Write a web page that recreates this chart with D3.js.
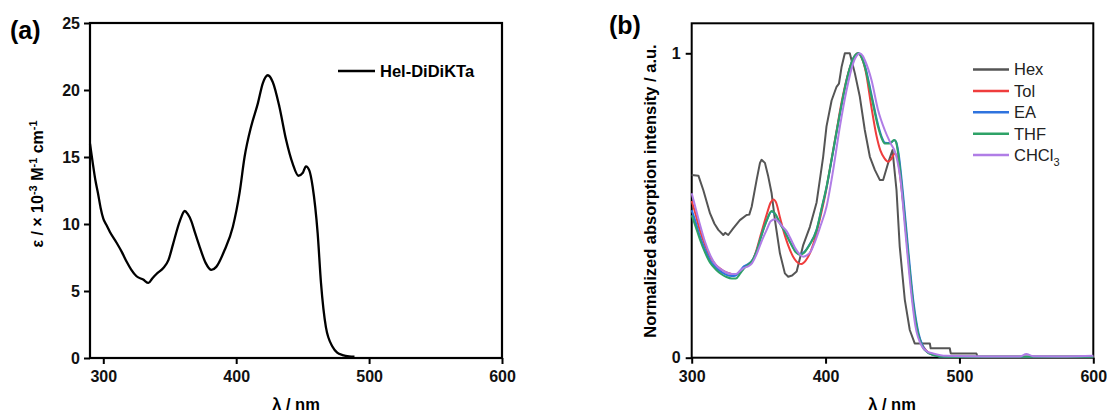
<!DOCTYPE html>
<html>
<head>
<meta charset="utf-8">
<script src="https://cdn.jsdelivr.net/npm/d3@7"></script>
<style>
  body { margin: 0; background: #fff; }
  text { font-family: "Liberation Sans", Arial, sans-serif; }
</style>
</head>
<body>
<div id="chart"></div>
<script>
// panel (a): molar absorptivity, x 10^-3 M^-1 cm^-1
var epsData = [
  [290, 16.0], [292, 14.6], [294, 13.3], [296, 12.3], [298, 11.2], [300, 10.4], [302.5, 9.9], [305, 9.4],
  [310, 8.6], [314, 7.9], [317.5, 7.2], [321, 6.6], [325, 6.1], [330, 5.85], [334, 5.6], [337, 5.95],
  [340, 6.27], [345, 6.7], [349, 7.3], [352.5, 8.5], [357.5, 10.2], [361.3, 10.97], [363.5, 10.75],
  [366.3, 10.2], [369, 9.35], [372.5, 8.3], [377, 7.1], [381.3, 6.57], [385, 6.8], [391.3, 8.06],
  [397.5, 9.8], [402.5, 12.3], [406.3, 15.0], [411.3, 17.3], [416.3, 19.0], [420, 20.5], [423.8, 21.1],
  [427.5, 20.6], [432.5, 18.75], [437.5, 16.3], [442.5, 14.5], [446.8, 13.6], [450, 13.8], [452.5, 14.3],
  [455, 14.0], [457.5, 12.8], [461.3, 9.3], [463.8, 5.6], [467.5, 2.3], [472.5, 0.84], [476, 0.4],
  [480, 0.22], [485, 0.12], [489, 0.1]
];
var epsLabel = "Hel-DiDiKTa";
var xTicksA = [300, 400, 500, 600];
var yTicksA = [0, 5, 10, 15, 20, 25];

// panel (b): normalized absorption in solvents
var hexData = [
  [300, 0.60], [305, 0.598], [308.7, 0.55], [313.7, 0.474], [317, 0.44], [319.9, 0.42], [323.6, 0.403],
  [325, 0.41], [327.3, 0.403], [331, 0.425], [336, 0.452], [341, 0.469], [343, 0.47], [344.8, 0.496],
  [348.5, 0.584], [351, 0.64], [352.2, 0.65], [354.7, 0.64], [357.2, 0.595], [359.7, 0.54], [362.2, 0.452],
  [365.9, 0.343], [369.6, 0.277], [372.1, 0.266], [375, 0.27], [378.4, 0.283], [383.3, 0.37], [388.3, 0.43],
  [393.3, 0.51], [398.2, 0.66], [400.7, 0.76], [404.5, 0.845], [408.2, 0.89], [410, 0.9], [412, 0.956],
  [414.4, 1.0], [418.1, 1.0], [421.9, 0.934], [425.6, 0.857], [429.3, 0.748], [433.1, 0.66], [436.8, 0.617],
  [440.5, 0.584], [443, 0.584], [446.7, 0.639], [450, 0.682], [453, 0.55], [455.4, 0.365], [459.2, 0.19],
  [462.9, 0.091], [466.6, 0.047], [477.9, 0.047], [478.5, 0.031], [492.8, 0.031], [493.5, 0.014],
  [512.7, 0.014], [513.5, 0.003], [600, 0.003]
];
var tolData = [
  [300, 0.515], [303, 0.47], [306, 0.42], [310, 0.37], [314, 0.33], [318, 0.305], [322, 0.29], [326, 0.28],
  [330, 0.275], [333, 0.272], [336, 0.282], [339, 0.298], [342, 0.305], [345, 0.315], [348.5, 0.355],
  [352, 0.41], [356, 0.47], [359, 0.51], [361, 0.52], [363, 0.51], [366, 0.46], [369, 0.41], [372, 0.37],
  [376, 0.33], [380, 0.31], [382, 0.308], [385, 0.318], [388, 0.34], [392, 0.39], [396, 0.46], [400, 0.54],
  [404, 0.64], [408, 0.74], [412, 0.84], [416, 0.92], [420, 0.975], [424, 1.0], [427, 0.985], [430, 0.94],
  [434, 0.83], [438, 0.73], [441, 0.68], [444, 0.655], [446.7, 0.644], [449, 0.652], [451.7, 0.671],
  [453.5, 0.66], [455.4, 0.606], [459.2, 0.452], [462.9, 0.278], [466.6, 0.135], [469, 0.08], [471.6, 0.047],
  [475, 0.025], [478, 0.014], [485, 0.006], [495, 0.003], [600, 0.003]
];
var eaData = [
  [300, 0.485], [303, 0.445], [306, 0.4], [310, 0.355], [314, 0.318], [318, 0.297], [322, 0.282],
  [326, 0.272], [330, 0.268], [333, 0.27], [336, 0.285], [339, 0.3], [342, 0.307], [345, 0.318],
  [348.5, 0.35], [352, 0.4], [356, 0.45], [359.7, 0.48], [362, 0.474], [366, 0.442], [370, 0.41],
  [374, 0.376], [378, 0.347], [381, 0.34], [384, 0.347], [388, 0.372], [393.3, 0.42], [397, 0.488],
  [400.7, 0.558], [405.7, 0.678], [410.7, 0.8], [415.7, 0.91], [420.6, 0.982], [424.6, 1.0], [427.2, 0.986],
  [429.5, 0.958], [434.5, 0.86], [439.4, 0.762], [442.2, 0.722], [444.4, 0.706], [448, 0.705], [451.4, 0.714],
  [452.8, 0.708], [454.5, 0.672], [458.3, 0.518], [462, 0.343], [465.8, 0.179], [469.5, 0.08], [472.5, 0.04],
  [474.5, 0.025], [480.5, 0.009], [490, 0.003], [600, 0.003]
];
var thfData = [
  [300, 0.468], [303, 0.43], [306, 0.39], [310, 0.345], [314, 0.31], [318, 0.29], [322, 0.275], [326, 0.265],
  [330, 0.26], [333, 0.26], [336, 0.275], [339, 0.293], [342, 0.305], [345, 0.318], [348.5, 0.35], [352, 0.4],
  [356, 0.45], [359.7, 0.482], [362, 0.475], [366, 0.44], [370, 0.41], [374, 0.375], [378, 0.345],
  [380.8, 0.338], [384, 0.345], [388, 0.37], [393.3, 0.42], [397, 0.49], [400.7, 0.562], [405.7, 0.682],
  [410.7, 0.803], [415.7, 0.912], [420.6, 0.983], [424.4, 1.0], [427, 0.985], [429.3, 0.956], [434.3, 0.857],
  [439.2, 0.759], [442, 0.72], [444.2, 0.704], [447.9, 0.704], [451.2, 0.715], [452.5, 0.71], [454.2, 0.671],
  [457.9, 0.518], [461.6, 0.343], [465.4, 0.179], [469.1, 0.08], [472, 0.04], [474.1, 0.025], [480.3, 0.009],
  [490, 0.003], [600, 0.003]
];
var chcl3Data = [
  [300, 0.54], [303, 0.49], [306, 0.44], [310, 0.38], [314, 0.335], [318, 0.305], [322, 0.29], [326, 0.28],
  [330, 0.275], [333, 0.275], [336, 0.285], [339, 0.295], [342, 0.3], [345, 0.31], [348.5, 0.34], [352, 0.38],
  [356, 0.42], [359, 0.448], [362.2, 0.455], [365, 0.445], [368, 0.43], [371, 0.415], [374, 0.39],
  [378, 0.355], [381, 0.338], [383.3, 0.332], [386, 0.336], [389, 0.35], [392, 0.38], [396, 0.43],
  [400.7, 0.496], [405.7, 0.617], [410.7, 0.759], [415.7, 0.879], [420.6, 0.967], [423, 0.99], [425.6, 1.0],
  [428, 0.99], [429.3, 0.978], [434.3, 0.912], [439.2, 0.814], [444.2, 0.748], [448.6, 0.704], [452.3, 0.671],
  [456, 0.584], [459.7, 0.409], [463.5, 0.233], [467.2, 0.102], [472.2, 0.036], [476, 0.02], [480.3, 0.014],
  [490, 0.006], [520, 0.004], [545, 0.004], [550, 0.012], [555, 0.005], [580, 0.004], [600, 0.006]
];
var solventNames = ["Hex", "Tol", "EA", "THF", "CHCl3"];
var solventColors = ["#555555", "#ef3d3d", "#2f73de", "#2ea267", "#b07de6"];
var xTicksB = [300, 400, 500, 600];
var yTicksB = [0, 1];

var svg = d3.select("#chart").append("svg").attr("width", 1107).attr("height", 414);

// ---------- panel (a)
var xA = d3.scaleLinear().domain([290, 600]).range([90, 502]);
var yA = d3.scaleLinear().domain([0, 25]).range([358, 23]);

var gA = svg.append("g");
gA.append("g").attr("transform", "translate(0,358)")
  .call(d3.axisBottom(xA).tickValues(xTicksA).tickSize(6).tickPadding(7))
  .call(g => g.select(".domain").remove());
gA.append("g").attr("transform", "translate(90,0)")
  .call(d3.axisLeft(yA).tickValues(yTicksA).tickSize(6).tickPadding(4))
  .call(g => g.select(".domain").remove());
gA.selectAll(".tick line").attr("stroke", "#000").attr("stroke-width", 2);
gA.selectAll(".tick text").attr("font-size", 16).attr("font-weight", "bold").attr("fill", "#111")
  .style("font-family", "'Liberation Sans', Arial, sans-serif");

gA.append("rect").attr("x", 90).attr("y", 23).attr("width", 412).attr("height", 335)
  .attr("fill", "none").attr("stroke", "#000").attr("stroke-width", 2.2);

var lineA = d3.line().x(d => xA(d[0])).y(d => yA(d[1])).curve(d3.curveMonotoneX);
gA.append("path").datum(epsData).attr("fill", "none").attr("stroke", "#000").attr("stroke-width", 2.3).attr("d", lineA);

gA.append("line").attr("x1", 338).attr("x2", 375).attr("y1", 71).attr("y2", 71).attr("stroke", "#000").attr("stroke-width", 2.5);
gA.append("text").attr("x", 380).attr("y", 71).attr("dy", "0.36em").attr("font-size", 16.5).attr("font-weight", "bold").text(epsLabel);

gA.append("text").attr("x", 296).attr("y", 410).attr("text-anchor", "middle").attr("font-size", 16.5).attr("font-weight", "bold").text("λ / nm");

var yTitleA = gA.append("text").attr("transform", "translate(43,184) rotate(-90)").attr("text-anchor", "middle")
  .attr("font-size", 16).attr("font-weight", "bold");
yTitleA.append("tspan").text("ε / × 10");
yTitleA.append("tspan").attr("dy", -6).attr("font-size", 11).text("-3");
yTitleA.append("tspan").attr("dy", 6).text(" M");
yTitleA.append("tspan").attr("dy", -6).attr("font-size", 11).text("-1");
yTitleA.append("tspan").attr("dy", 6).text(" cm");
yTitleA.append("tspan").attr("dy", -6).attr("font-size", 11).text("-1");

svg.append("text").attr("x", 10).attr("y", 39).attr("font-size", 25).attr("font-weight", "bold").text("(a)");

// ---------- panel (b)
var xB = d3.scaleLinear().domain([300, 600]).range([691.7, 1093.3]);
var yB = d3.scaleLinear().domain([0, 1.0985]).range([357.7, 23.3]);

var gB = svg.append("g");
gB.append("g").attr("transform", "translate(0,357.7)")
  .call(d3.axisBottom(xB).tickValues(xTicksB).tickSize(6).tickPadding(7))
  .call(g => g.select(".domain").remove());
gB.append("g").attr("transform", "translate(691.7,0)")
  .call(d3.axisLeft(yB).tickValues(yTicksB).tickFormat(d3.format("d")).tickSize(6).tickPadding(5))
  .call(g => g.select(".domain").remove());
gB.selectAll(".tick line").attr("stroke", "#000").attr("stroke-width", 2);
gB.selectAll(".tick text").attr("font-size", 16).attr("font-weight", "bold").attr("fill", "#111")
  .style("font-family", "'Liberation Sans', Arial, sans-serif");

gB.append("rect").attr("x", 691.7).attr("y", 23.3).attr("width", 401.6).attr("height", 334.4)
  .attr("fill", "none").attr("stroke", "#000").attr("stroke-width", 2);

var lineB = d3.line().x(d => xB(d[0])).y(d => yB(d[1])).curve(d3.curveMonotoneX);
var hexLine = d3.line().x(d => xB(d[0])).y(d => yB(d[1]));
var solventData = [hexData, tolData, eaData, thfData, chcl3Data];
solventData.forEach(function(data, i) {
  gB.append("path").datum(data).attr("fill", "none").attr("stroke", solventColors[i])
    .attr("stroke-width", 2).attr("stroke-linejoin", "round").attr("d", i === 0 ? hexLine : lineB);
});

var legB = gB.append("g");
solventNames.forEach(function(name, i) {
  var y = 69.5 + i * 21.4;
  legB.append("line").attr("x1", 973).attr("x2", 1009).attr("y1", y).attr("y2", y)
    .attr("stroke", solventColors[i]).attr("stroke-width", 2.5);
  var t = legB.append("text").attr("x", 1014).attr("y", y).attr("dy", "0.36em").attr("font-size", 16.5).attr("fill", "#222");
  if (name === "CHCl3") {
    t.append("tspan").text("CHCl");
    t.append("tspan").attr("dy", 5).attr("font-size", 11).text("3");
  } else {
    t.text(name);
  }
});

gB.append("text").attr("x", 892).attr("y", 410).attr("text-anchor", "middle").attr("font-size", 16.5).attr("font-weight", "bold").text("λ / nm");
gB.append("text").attr("transform", "translate(656,191) rotate(-90)").attr("text-anchor", "middle")
  .attr("font-size", 16.5).attr("font-weight", "bold").text("Normalized absorption intensity / a.u.");

svg.append("text").attr("x", 609).attr("y", 34).attr("font-size", 25).attr("font-weight", "bold").text("(b)");
</script>
</body>
</html>
